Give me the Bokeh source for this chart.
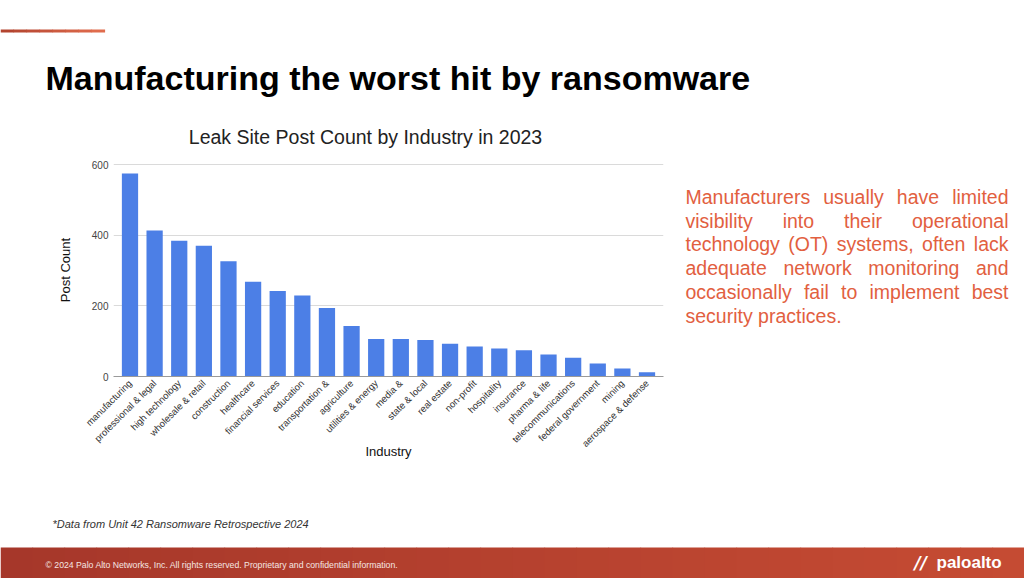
import math
from bokeh.plotting import figure
from bokeh.models import ColumnDataSource, FactorRange, Range1d, FixedTicker
from bokeh.layouts import column, row
from bokeh.core.properties import value
from bokeh.embed import file_html
from bokeh.resources import INLINE

# ---------------- data ----------------
industries = [
    "manufacturing", "professional & legal", "high technology", "wholesale & retail",
    "construction", "healthcare", "financial services", "education", "transportation &",
    "agriculture", "utilities & energy", "media &", "state & local", "real estate",
    "non-profit", "hospitality", "insurance", "pharma & life", "telecommunications",
    "federal government", "mining", "aerospace & defense",
]
post_counts = [575, 413, 384, 370, 326, 268, 242, 229, 194, 143, 106,
               106, 103, 93, 85, 79, 74, 62, 53, 37, 23, 12]
y_ticks = [0, 200, 400, 600]

slide_title = "Manufacturing the worst hit by ransomware"
chart_title = "Leak Site Post Count by Industry in 2023"
x_label = "Industry"
y_label = "Post Count"
paragraph_lines = [
    "Manufacturers usually have limited",
    "visibility into their operational",
    "technology (OT) systems, often lack",
    "adequate network monitoring and",
    "occasionally fail to implement best",
    "security practices.",
]
source_note = "*Data from Unit 42 Ransomware Retrospective 2024"
copyright_note = "\u00a9 2024 Palo Alto Networks, Inc. All rights reserved. Proprietary and confidential information."

FONT = "Liberation Sans"
BAR = "#4c7fe6"
W, H = 1024, 578
HEAD_H = 150          # window y 0..150
MID_H = 360           # window y 150..510
FOOT_H = H - HEAD_H - MID_H
CHART_W = 672
MB_TOP = 13           # chart frame top  -> window y 163
FRAME_H = 213         # chart frame bottom -> window y 376
MB_BOT = MID_H - MB_TOP - FRAME_H


def deco(x0, x1, y0, y1, mb_top=0, mb_bot=0):
    """Figure whose data coordinates are window pixels (y downward)."""
    w = x1 - x0
    h = (y1 - y0) + mb_top + mb_bot
    f = figure(width=w, height=h, x_range=Range1d(x0, x1), y_range=Range1d(y1, y0),
               output_backend="svg", toolbar_location=None,
               x_axis_type=None, y_axis_type=None,
               min_border_left=0, min_border_right=0,
               min_border_top=mb_top, min_border_bottom=mb_bot)
    f.outline_line_color = None
    f.background_fill_color = "white"
    f.border_fill_color = "white"
    return f


def txt(f, x, y, s, size, color, style="normal", align="left", font=FONT):
    # y is the visual centre of the text line
    f.text(x=[x], y=[y], text=[s], text_font=value(font), text_font_size=value(f"{size}px"),
           text_color=value(color), text_font_style=value(style), text_align=value(align),
           text_baseline=value("middle"))


def mix(c0, c1, t):
    a = [int(c0[i:i + 2], 16) for i in (1, 3, 5)]
    b = [int(c1[i:i + 2], 16) for i in (1, 3, 5)]
    return "#" + "".join(f"{int(round(a[k] + (b[k] - a[k]) * t)):02x}" for k in range(3))


def strips(f, x0, x1, y0, y1, c0, c1, n):
    lefts = [x0 + (x1 - x0) * i / n for i in range(n)]
    rights = [x0 + (x1 - x0) * (i + 1) / n + 0.6 for i in range(n)]
    cols = [mix(c0, c1, i / (n - 1)) for i in range(n)]
    f.quad(left=lefts, right=rights, top=[y0] * n, bottom=[y1] * n, fill_color=cols, line_color=None)


# ---------------- header (window y 0..150) ----------------
head = deco(0, W, 0, HEAD_H)
strips(head, 0, 104, 29, 32, "#b3442f", "#e06c4d", 8)
txt(head, 45, 77, slide_title, 34, "#000000", style="bold")
txt(head, 365, 136, chart_title, 19.5, "#222222", align="center")

# ---------------- chart ----------------
p = figure(
    width=CHART_W, height=MID_H,
    x_range=FactorRange(factors=industries, range_padding=0.17, range_padding_units="absolute"),
    y_range=Range1d(0, 603),
    output_backend="svg", toolbar_location=None,
    min_border_left=113, min_border_right=CHART_W - 663,
    min_border_top=MB_TOP, min_border_bottom=MB_BOT,
)
p.background_fill_color = "white"
p.border_fill_color = "white"
p.outline_line_color = None

src = ColumnDataSource(dict(cat=industries, val=post_counts))
p.vbar(x="cat", top="val", width=0.66, source=src, fill_color=BAR, line_color=None)

p.xgrid.grid_line_color = None
p.ygrid.grid_line_color = "#dadada"
p.ygrid.grid_line_width = 1

p.yaxis.ticker = FixedTicker(ticks=y_ticks)
p.yaxis.axis_line_color = None
p.yaxis.major_tick_line_color = None
p.yaxis.minor_tick_line_color = None
p.yaxis.major_tick_out = 0
p.yaxis.major_tick_in = 0
p.yaxis.major_label_standoff = 5
p.yaxis.major_label_text_font = FONT
p.yaxis.major_label_text_font_size = "10px"
p.yaxis.major_label_text_color = "#444444"
p.yaxis.axis_label = y_label
p.yaxis.axis_label_text_font = FONT
p.yaxis.axis_label_text_font_size = "13px"
p.yaxis.axis_label_text_font_style = "normal"
p.yaxis.axis_label_text_color = "#111111"
p.yaxis.axis_label_standoff = 16

p.xaxis.axis_line_color = "#9a9a9a"
p.xaxis.axis_line_width = 1
p.xaxis.major_tick_line_color = None
p.xaxis.minor_tick_line_color = None
p.xaxis.major_tick_out = 0
p.xaxis.major_tick_in = 0
p.xaxis.major_label_orientation = math.pi / 4
p.xaxis.major_label_standoff = 5
p.xaxis.major_label_text_font = FONT
p.xaxis.major_label_text_font_size = "9.5px"
p.xaxis.major_label_text_color = "#333333"
p.xaxis.axis_label = x_label
p.xaxis.axis_label_text_font = FONT
p.xaxis.axis_label_text_font_size = "13px"
p.xaxis.axis_label_text_font_style = "normal"
p.xaxis.axis_label_text_color = "#111111"
p.xaxis.axis_label_standoff = -12

# ---------------- right paragraph (frame aligned with the chart frame) ----------------
side = deco(CHART_W, W, HEAD_H + MB_TOP, HEAD_H + MB_TOP + FRAME_H, mb_top=MB_TOP, mb_bot=MB_BOT)
ARIAL = {" ": 278, "a": 556, "b": 556, "c": 500, "d": 556, "e": 556, "f": 278, "g": 556,
         "h": 556, "i": 222, "j": 222, "k": 500, "l": 222, "m": 833, "n": 556, "o": 556,
         "p": 556, "q": 556, "r": 333, "s": 500, "t": 278, "u": 556, "v": 500, "w": 722,
         "x": 500, "y": 500, "z": 500, "M": 833, "O": 778, "T": 611, "(": 333, ")": 333,
         ",": 278, ".": 278}
PSIZE = 19.5
PCOLOR = "#e2603f"
PX0, PX1 = 685, 1008
PY0, PDY = 196.5, 23.7


def wwidth(w):
    return sum(ARIAL.get(ch, 556) for ch in w) * PSIZE / 1000.0


for li, line in enumerate(paragraph_lines):
    Y = PY0 + li * PDY
    words = line.split(" ")
    if li == len(paragraph_lines) - 1:
        txt(side, PX0, Y, line, PSIZE, PCOLOR)
        continue
    widths = [wwidth(w) for w in words]
    gap = (PX1 - PX0 - sum(widths)) / (len(words) - 1)
    x = PX0
    for wi, w in enumerate(words):
        if wi == len(words) - 1:
            txt(side, PX1, Y, w, PSIZE, PCOLOR, align="right")
        else:
            txt(side, x, Y, w, PSIZE, PCOLOR)
        x += widths[wi] + gap

# ---------------- footer (window y 510..578) ----------------
FY = HEAD_H + MID_H
foot = deco(0, W, FY, H)
strips(foot, 0, W, 547, H, "#a6372a", "#c54b33", 32)
txt(foot, 52, 523, source_note, 11, "#333333", style="italic")
txt(foot, 45, 564, copyright_note, 8.7, "#f5e6e2")
txt(foot, 914, 562, "//", 17, "#ffffff", style="bold italic", font="DejaVu Sans")
txt(foot, 936, 562, "paloalto", 17, "#ffffff", style="bold")

layout = column(head, row(p, side, spacing=0), foot, spacing=0)
open("out.html", "w").write(file_html(layout, INLINE))
